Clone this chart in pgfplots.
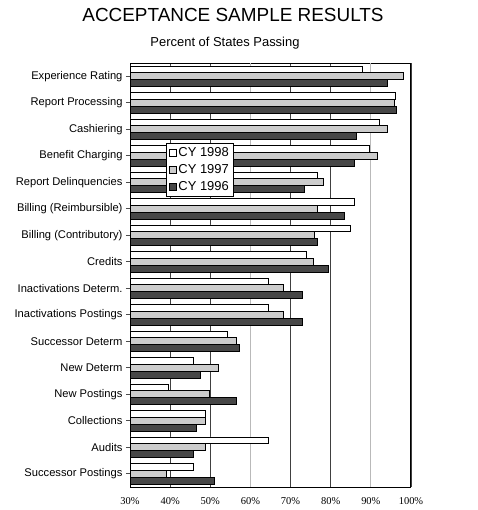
\documentclass[border=0pt]{standalone}
\usepackage{pgfplots}
\usepackage{pgfplotstable}
\pgfplotsset{compat=1.18}
\usepackage{fontspec}
\setmainfont{Liberation Sans}
\newfontfamily\tnr{Liberation Serif}
\definecolor{barlight}{gray}{0.80}
\definecolor{bardark}{gray}{0.28}

% percent of states passing, top category first
\pgfplotstableread{
y  a98  a97  a96
0  88.0 98.0 94.0
1  96.1 95.9 96.3
2  92.1 94.0 86.5
3  89.6 91.6 85.8
4  76.6 78.3 73.5
5  85.8 76.8 83.3
6  84.9 76.0 76.6
7  73.9 75.6 79.3
8  64.6 68.3 72.9
9  64.6 68.3 73.0
10 54.2 56.5 57.3
11 45.8 52.0 47.6
12 39.5 49.9 56.5
13 48.9 48.9 46.6
14 64.6 48.9 45.9
15 45.8 39.0 51.1
}\accdata

\begin{document}
\begin{tikzpicture}
\useasboundingbox (0,0) rectangle (478bp,510bp);
\node[anchor=base, font=\fontsize{19}{21}\selectfont] at (233bp,488bp) {ACCEPTANCE SAMPLE RESULTS};
\node[anchor=base, font=\fontsize{13}{15}\selectfont] at (225bp,463bp) {Percent of States Passing};
\begin{axis}[
  at={(130bp,23bp)}, anchor=south west,
  scale only axis, width=281bp, height=424bp,
  xbar=0pt, bar width=0.26,
  y dir=reverse,
  xmin=30, xmax=100, ymin=-0.5, ymax=15.5,
  xtick={30,40,50,70,80,100},
  extra x ticks={60,90},
  extra x tick style={major grid style={gray!55, line width=0.9pt}},
  xmajorgrids,
  major grid style={black!75, line width=0.9pt},
  xticklabel={\tnr\pgfmathprintnumber[assume math mode=true]{\tick}\%},
  xticklabel style={font=\fontsize{10.5}{12}\selectfont, yshift=-3bp},
  xtick style={draw=none},
  ytick={0,...,15},
  yticklabels={Experience Rating, Report Processing, Cashiering, Benefit Charging, Report Delinquencies, Billing (Reimbursible), Billing (Contributory), Credits, Inactivations Determ., Inactivations Postings, Successor Determ, New Determ, New Postings, Collections, Audits, Successor Postings},
  yticklabel style={font=\fontsize{11.2}{13}\selectfont},
  ytick pos=left, tick align=outside, major tick length=4bp,
  ytick style={black!70, line width=0.6pt},
  axis line style={line width=1pt},
  legend cell align=left,
  legend style={at={(0.128,0.812)}, anchor=north west, draw=black, fill=white,
    line width=0.8pt, font=\fontsize{13}{15}\selectfont, inner sep=2.5bp, row sep=2.5bp},
  legend image code/.code={\draw[#1, line width=0.6pt] (0bp,-3.5bp) rectangle (7bp,3.5bp);},
]
\addplot[fill=white, draw=black, line width=0.8pt] table[x=a98, y=y] {\accdata};
\addlegendentry{CY 1998}
\addplot[fill=barlight, draw=black, line width=0.8pt] table[x=a97, y=y] {\accdata};
\addlegendentry{CY 1997}
\addplot[fill=bardark, draw=black, line width=0.8pt] table[x=a96, y=y] {\accdata};
\addlegendentry{CY 1996}
\end{axis}
\end{tikzpicture}
\end{document}
